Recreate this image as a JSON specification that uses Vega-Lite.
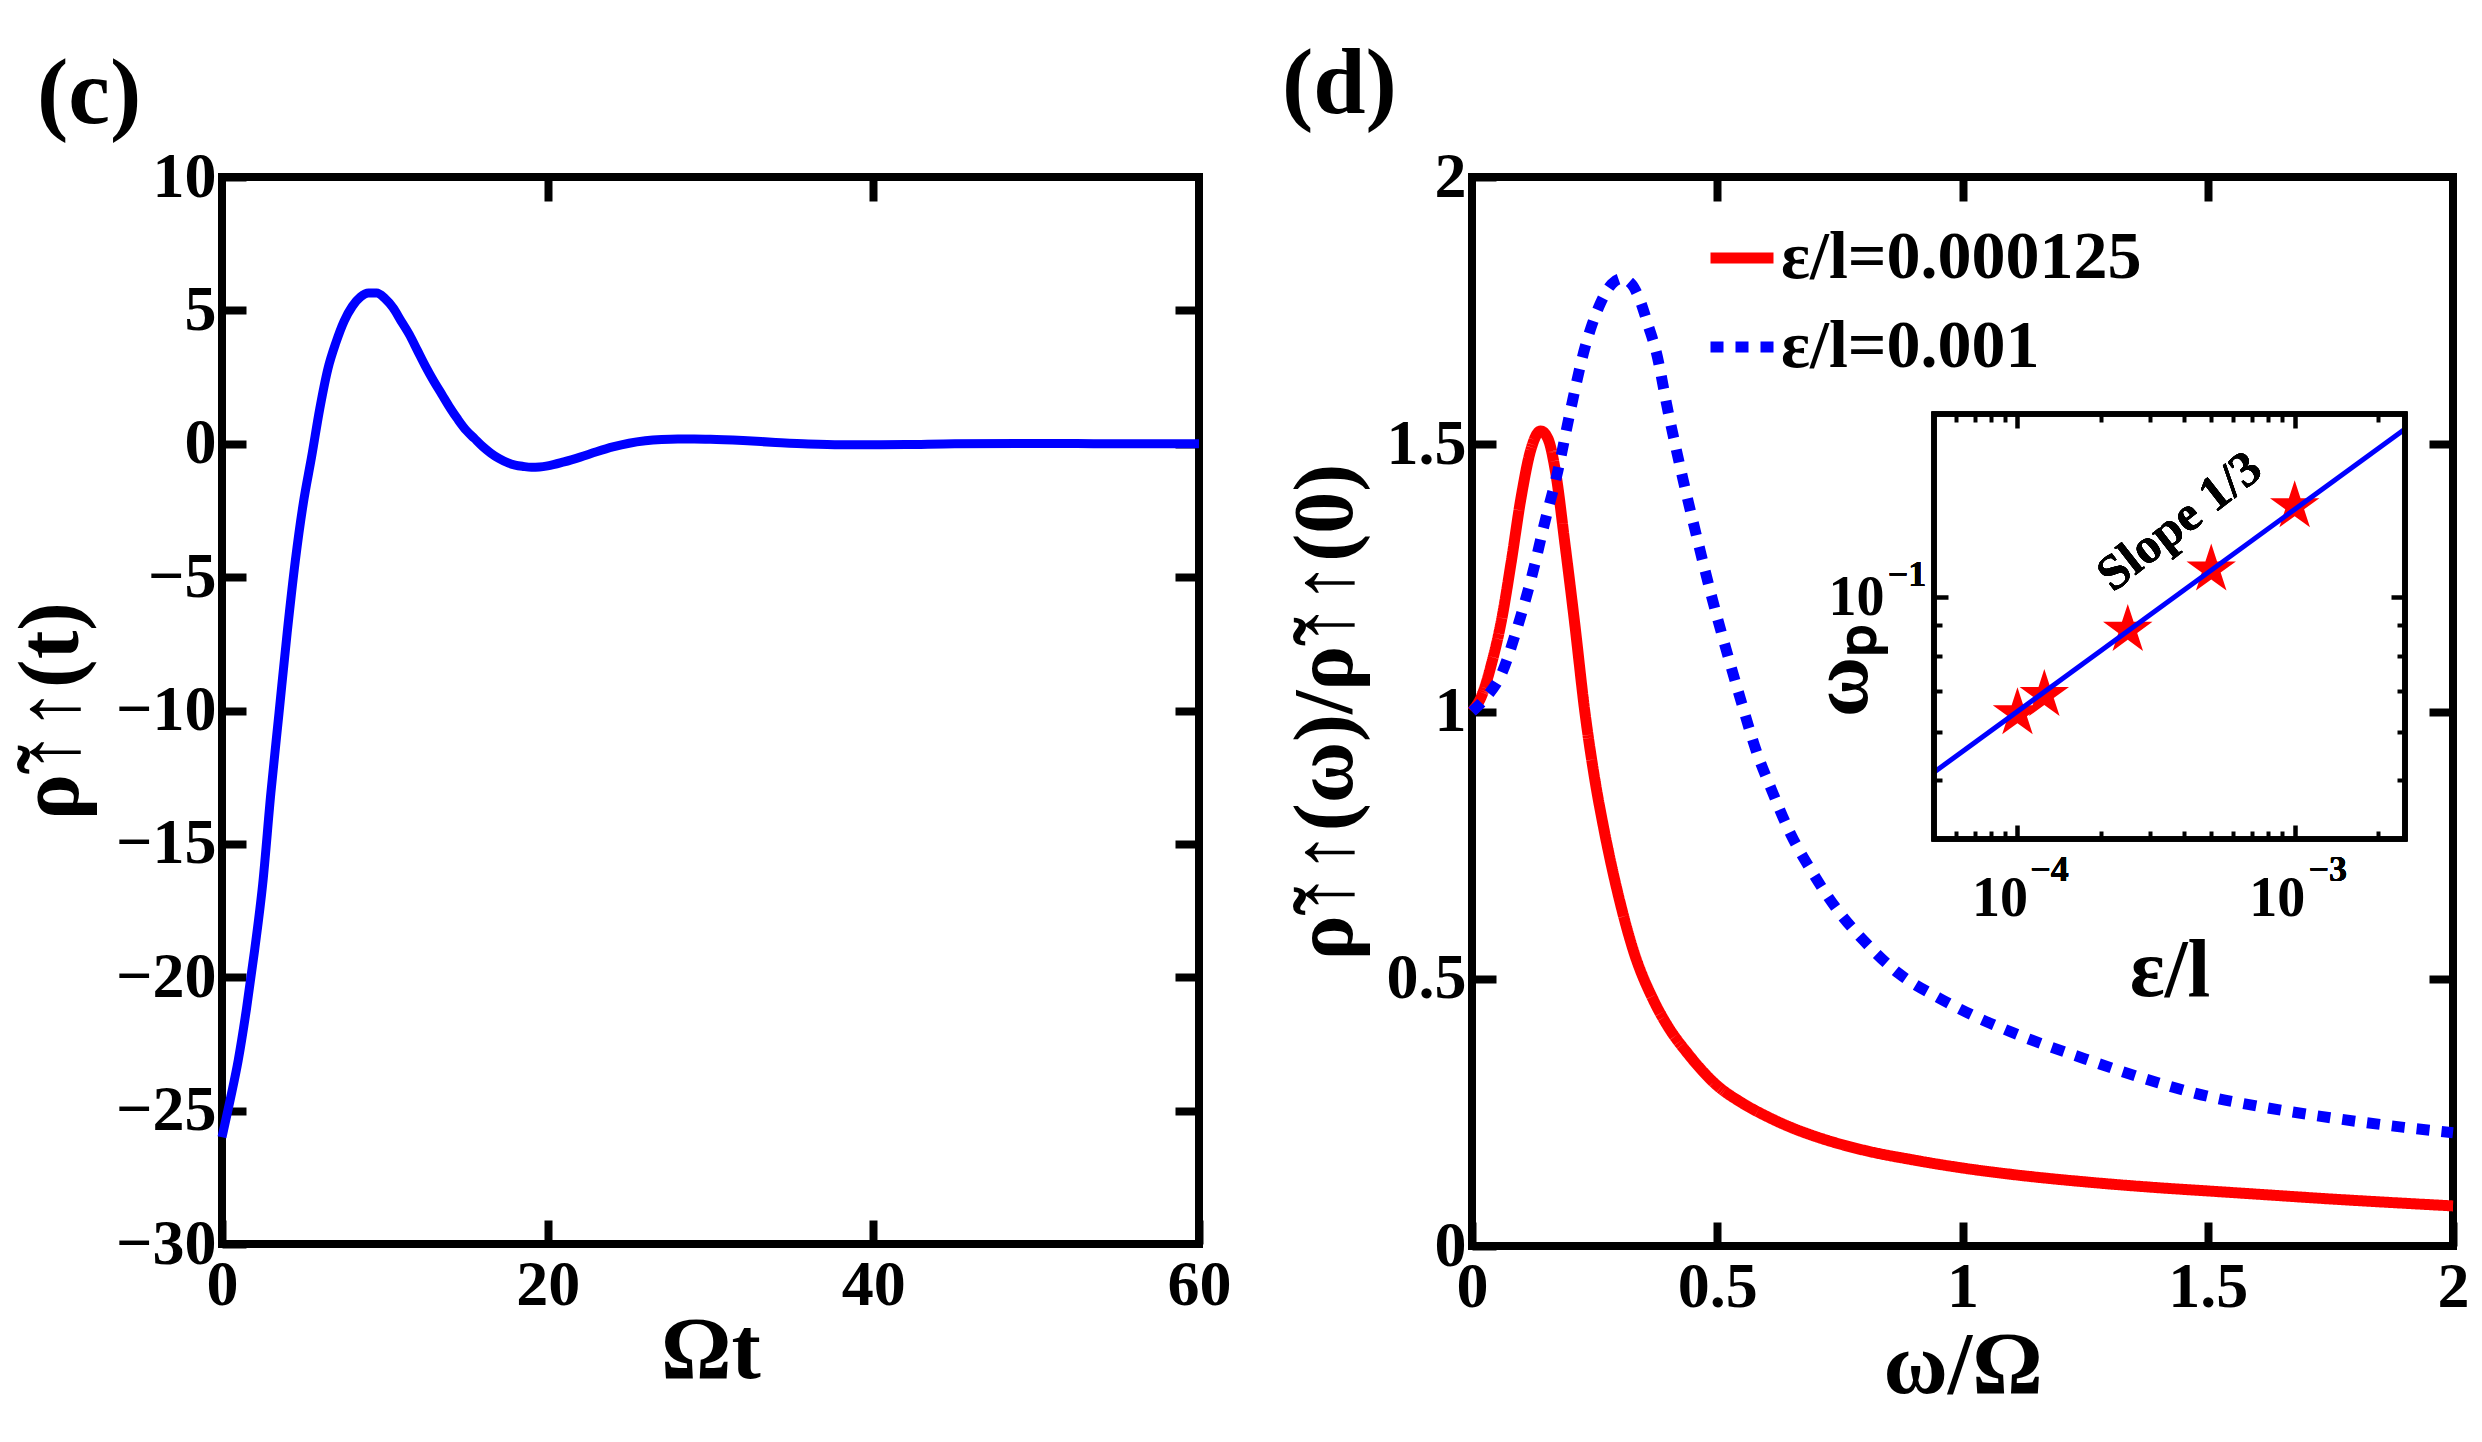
{
  "$schema": "https://vega.github.io/schema/vega-lite/v6.json",
  "background": "white",
  "padding": {"left": 4, "top": 34, "right": 5, "bottom": 5},
  "bounds": "flush",
  "spacing": 273,
  "config": {
    "font": "Liberation Serif",
    "view": {"stroke": "black", "strokeWidth": 8},
    "axis": {
      "grid": false,
      "domain": false,
      "labelFont": "Liberation Serif",
      "labelFontWeight": "bold",
      "labelColor": "black",
      "labelFlush": false,
      "labelOverlap": false,
      "labelBound": false,
      "titleFont": "Liberation Serif",
      "titleFontWeight": "bold",
      "titleColor": "black",
      "tickColor": "black"
    },
    "title": {"font": "Liberation Serif", "fontWeight": "bold", "color": "black", "fontSize": 94, "anchor": "start", "frame": "group", "baseline": "alphabetic"},
    "legend": {
      "orient": "none",
      "legendX": 1483,
      "legendY": 44,
      "padding": 0,
      "symbolType": "stroke",
      "symbolSize": 3969,
      "symbolStrokeWidth": 11,
      "labelFont": "Liberation Serif",
      "labelFontWeight": "bold",
      "labelFontSize": 68,
      "labelColor": "black",
      "labelOffset": 2,
      "labelLimit": 0,
      "rowPadding": 18
    }
  },
  "datasets": {
    "relax": [
      {"t": 0, "rho": -26.0}, {"t": 0.5, "rho": -24.6}, {"t": 1.0, "rho": -23.1}, {"t": 1.5, "rho": -21.2},
      {"t": 2.0, "rho": -19.0}, {"t": 2.5, "rho": -16.5}, {"t": 3.0, "rho": -13.1}, {"t": 3.5, "rho": -10.1},
      {"t": 4.0, "rho": -7.1}, {"t": 4.5, "rho": -4.4}, {"t": 5.0, "rho": -2.2}, {"t": 5.5, "rho": -0.5},
      {"t": 6.0, "rho": 1.3}, {"t": 6.5, "rho": 2.8}, {"t": 7.0, "rho": 3.8}, {"t": 7.5, "rho": 4.6},
      {"t": 8.0, "rho": 5.15}, {"t": 8.5, "rho": 5.5}, {"t": 9.0, "rho": 5.65}, {"t": 9.5, "rho": 5.65},
      {"t": 10.0, "rho": 5.45}, {"t": 10.5, "rho": 5.1}, {"t": 11.0, "rho": 4.6}, {"t": 11.5, "rho": 4.1},
      {"t": 12.0, "rho": 3.5}, {"t": 12.5, "rho": 2.9}, {"t": 13.0, "rho": 2.35}, {"t": 13.5, "rho": 1.85},
      {"t": 14.0, "rho": 1.35}, {"t": 14.5, "rho": 0.9}, {"t": 15.0, "rho": 0.5}, {"t": 15.5, "rho": 0.2},
      {"t": 16.0, "rho": -0.1}, {"t": 16.5, "rho": -0.35}, {"t": 17.0, "rho": -0.55}, {"t": 17.5, "rho": -0.7},
      {"t": 18.0, "rho": -0.8}, {"t": 18.5, "rho": -0.85}, {"t": 19.0, "rho": -0.88}, {"t": 19.5, "rho": -0.87},
      {"t": 20.0, "rho": -0.83}, {"t": 21.0, "rho": -0.68}, {"t": 22.0, "rho": -0.5}, {"t": 23.0, "rho": -0.3},
      {"t": 24.0, "rho": -0.12}, {"t": 25.0, "rho": 0.02}, {"t": 26.0, "rho": 0.11}, {"t": 27.0, "rho": 0.16},
      {"t": 28.0, "rho": 0.18}, {"t": 29.0, "rho": 0.18}, {"t": 30.0, "rho": 0.17}, {"t": 32.0, "rho": 0.12},
      {"t": 34.0, "rho": 0.05}, {"t": 36.0, "rho": -0.01}, {"t": 38.0, "rho": -0.04}, {"t": 40.0, "rho": -0.04},
      {"t": 42.0, "rho": -0.03}, {"t": 45.0, "rho": 0.0}, {"t": 50.0, "rho": 0.01}, {"t": 55.0, "rho": 0.0},
      {"t": 60.0, "rho": 0.0}
    ],
    "spectra": [
      {"series": "ε/l=0.000125", "omega": 0, "ratio": 1.0},
      {"series": "ε/l=0.000125", "omega": 0.02, "ratio": 1.03},
      {"series": "ε/l=0.000125", "omega": 0.04, "ratio": 1.09},
      {"series": "ε/l=0.000125", "omega": 0.06, "ratio": 1.17},
      {"series": "ε/l=0.000125", "omega": 0.08, "ratio": 1.28},
      {"series": "ε/l=0.000125", "omega": 0.10, "ratio": 1.40},
      {"series": "ε/l=0.000125", "omega": 0.12, "ratio": 1.49},
      {"series": "ε/l=0.000125", "omega": 0.14, "ratio": 1.525},
      {"series": "ε/l=0.000125", "omega": 0.155, "ratio": 1.51},
      {"series": "ε/l=0.000125", "omega": 0.17, "ratio": 1.45},
      {"series": "ε/l=0.000125", "omega": 0.19, "ratio": 1.31},
      {"series": "ε/l=0.000125", "omega": 0.21, "ratio": 1.16},
      {"series": "ε/l=0.000125", "omega": 0.23, "ratio": 1.0},
      {"series": "ε/l=0.000125", "omega": 0.25, "ratio": 0.875},
      {"series": "ε/l=0.000125", "omega": 0.27, "ratio": 0.775},
      {"series": "ε/l=0.000125", "omega": 0.30, "ratio": 0.65},
      {"series": "ε/l=0.000125", "omega": 0.33, "ratio": 0.55},
      {"series": "ε/l=0.000125", "omega": 0.37, "ratio": 0.46},
      {"series": "ε/l=0.000125", "omega": 0.40, "ratio": 0.41},
      {"series": "ε/l=0.000125", "omega": 0.44, "ratio": 0.36},
      {"series": "ε/l=0.000125", "omega": 0.50, "ratio": 0.30},
      {"series": "ε/l=0.000125", "omega": 0.55, "ratio": 0.268},
      {"series": "ε/l=0.000125", "omega": 0.60, "ratio": 0.243},
      {"series": "ε/l=0.000125", "omega": 0.65, "ratio": 0.222},
      {"series": "ε/l=0.000125", "omega": 0.70, "ratio": 0.205},
      {"series": "ε/l=0.000125", "omega": 0.80, "ratio": 0.179},
      {"series": "ε/l=0.000125", "omega": 0.90, "ratio": 0.161},
      {"series": "ε/l=0.000125", "omega": 1.00, "ratio": 0.146},
      {"series": "ε/l=0.000125", "omega": 1.10, "ratio": 0.134},
      {"series": "ε/l=0.000125", "omega": 1.25, "ratio": 0.12},
      {"series": "ε/l=0.000125", "omega": 1.40, "ratio": 0.109},
      {"series": "ε/l=0.000125", "omega": 1.50, "ratio": 0.103},
      {"series": "ε/l=0.000125", "omega": 1.60, "ratio": 0.097},
      {"series": "ε/l=0.000125", "omega": 1.75, "ratio": 0.088},
      {"series": "ε/l=0.000125", "omega": 1.90, "ratio": 0.08},
      {"series": "ε/l=0.000125", "omega": 2.00, "ratio": 0.075},
      {"series": "ε/l=0.001", "omega": 0, "ratio": 1.0},
      {"series": "ε/l=0.001", "omega": 0.03, "ratio": 1.028},
      {"series": "ε/l=0.001", "omega": 0.06, "ratio": 1.07},
      {"series": "ε/l=0.001", "omega": 0.09, "ratio": 1.15},
      {"series": "ε/l=0.001", "omega": 0.12, "ratio": 1.246},
      {"series": "ε/l=0.001", "omega": 0.15, "ratio": 1.36},
      {"series": "ε/l=0.001", "omega": 0.175, "ratio": 1.45},
      {"series": "ε/l=0.001", "omega": 0.20, "ratio": 1.56},
      {"series": "ε/l=0.001", "omega": 0.23, "ratio": 1.68},
      {"series": "ε/l=0.001", "omega": 0.26, "ratio": 1.76},
      {"series": "ε/l=0.001", "omega": 0.285, "ratio": 1.80},
      {"series": "ε/l=0.001", "omega": 0.305, "ratio": 1.81},
      {"series": "ε/l=0.001", "omega": 0.325, "ratio": 1.80},
      {"series": "ε/l=0.001", "omega": 0.34, "ratio": 1.775},
      {"series": "ε/l=0.001", "omega": 0.36, "ratio": 1.72},
      {"series": "ε/l=0.001", "omega": 0.375, "ratio": 1.675},
      {"series": "ε/l=0.001", "omega": 0.40, "ratio": 1.56},
      {"series": "ε/l=0.001", "omega": 0.43, "ratio": 1.435},
      {"series": "ε/l=0.001", "omega": 0.46, "ratio": 1.32},
      {"series": "ε/l=0.001", "omega": 0.49, "ratio": 1.21},
      {"series": "ε/l=0.001", "omega": 0.52, "ratio": 1.11},
      {"series": "ε/l=0.001", "omega": 0.55, "ratio": 1.015},
      {"series": "ε/l=0.001", "omega": 0.58, "ratio": 0.925},
      {"series": "ε/l=0.001", "omega": 0.61, "ratio": 0.855},
      {"series": "ε/l=0.001", "omega": 0.65, "ratio": 0.77},
      {"series": "ε/l=0.001", "omega": 0.69, "ratio": 0.705},
      {"series": "ε/l=0.001", "omega": 0.74, "ratio": 0.635},
      {"series": "ε/l=0.001", "omega": 0.80, "ratio": 0.57},
      {"series": "ε/l=0.001", "omega": 0.87, "ratio": 0.51},
      {"series": "ε/l=0.001", "omega": 0.95, "ratio": 0.465},
      {"series": "ε/l=0.001", "omega": 1.02, "ratio": 0.432},
      {"series": "ε/l=0.001", "omega": 1.10, "ratio": 0.40},
      {"series": "ε/l=0.001", "omega": 1.25, "ratio": 0.35},
      {"series": "ε/l=0.001", "omega": 1.40, "ratio": 0.305},
      {"series": "ε/l=0.001", "omega": 1.50, "ratio": 0.28},
      {"series": "ε/l=0.001", "omega": 1.60, "ratio": 0.262},
      {"series": "ε/l=0.001", "omega": 1.75, "ratio": 0.24},
      {"series": "ε/l=0.001", "omega": 1.90, "ratio": 0.222},
      {"series": "ε/l=0.001", "omega": 2.00, "ratio": 0.212}
    ],
    "peaks": [
      {"eps": 0.0001, "wp": 0.0644},
      {"eps": 0.000125, "wp": 0.069},
      {"eps": 0.00025, "wp": 0.0883},
      {"eps": 0.0005, "wp": 0.111},
      {"eps": 0.001, "wp": 0.141}
    ],
    "fit": [
      {"eps": 0.00005, "wp": 0.0515},
      {"eps": 0.0025, "wp": 0.189}
    ]
  },
  "hconcat": [
    {
      "width": 977,
      "height": 1067,
      "title": {"text": "(c)", "dx": -185, "offset": 2},
      "data": {"name": "relax"},
      "layer": [
        {
          "mark": {"type": "line", "color": "#0000ff", "strokeWidth": 9, "interpolate": "monotone"},
          "encoding": {
            "x": {
              "field": "t", "type": "quantitative",
              "scale": {"domain": [0, 60], "nice": false, "zero": false},
              "axis": {"orient": "bottom", "values": [0, 20, 40, 60], "tickSize": -24, "tickWidth": 8,
                       "labelFontSize": 64, "labelPadding": 33, "title": "Ωt", "titleFontSize": 88, "titlePadding": -10}
            },
            "y": {
              "field": "rho", "type": "quantitative",
              "scale": {"domain": [-30, 10], "nice": false, "zero": false},
              "axis": {"orient": "left", "values": [-30, -25, -20, -15, -10, -5, 0, 5, 10], "format": "d",
                       "tickSize": -24, "tickWidth": 8, "labelFontSize": 64, "labelPadding": 30,
                       "title": "ρ̃↑↑(t)", "titleFontSize": 86, "titlePadding": 20}
            }
          }
        },
        {
          "mark": {"type": "line", "strokeOpacity": 0},
          "encoding": {
            "x": {
              "field": "t", "type": "quantitative",
              "scale": {"domain": [0, 60], "nice": false, "zero": false},
              "axis": {"orient": "top", "values": [20, 40], "tickSize": -24, "tickWidth": 8, "labels": false, "title": null}
            },
            "y": {
              "field": "rho", "type": "quantitative",
              "scale": {"domain": [-30, 10], "nice": false, "zero": false},
              "axis": {"orient": "right", "values": [-25, -20, -15, -10, -5, 0, 5], "tickSize": -24, "tickWidth": 8, "labels": false, "title": null}
            }
          }
        }
      ],
      "resolve": {"axis": {"x": "independent", "y": "independent"}}
    },
    {
      "width": 981,
      "height": 1069,
      "title": {"text": "(d)", "dx": -190, "offset": 12},
      "layer": [
        {
          "data": {"name": "spectra"},
          "layer": [
            {
              "mark": {"type": "line", "strokeWidth": 11, "interpolate": "monotone"},
              "encoding": {
                "x": {
                  "field": "omega", "type": "quantitative",
                  "scale": {"domain": [0, 2], "nice": false, "zero": false},
                  "axis": {"orient": "bottom", "values": [0, 0.5, 1, 1.5, 2], "labelExpr": "'' + datum.value",
                           "tickSize": -24, "tickWidth": 8, "labelFontSize": 64, "labelPadding": 33,
                           "title": "ω/Ω", "titleFontSize": 88, "titlePadding": 3}
                },
                "y": {
                  "field": "ratio", "type": "quantitative",
                  "scale": {"domain": [0, 2], "nice": false, "zero": false},
                  "axis": {"orient": "left", "values": [0, 0.5, 1, 1.5, 2], "labelExpr": "'' + datum.value",
                           "tickSize": -24, "tickWidth": 8, "labelFontSize": 64, "labelPadding": 30,
                           "title": "ρ̃↑↑(ω)/ρ̃↑↑(0)", "titleFontSize": 84, "titlePadding": 17}
                },
                "color": {
                  "field": "series", "type": "nominal",
                  "scale": {"domain": ["ε/l=0.000125", "ε/l=0.001"], "range": ["#ff0000", "#0000ff"]},
                  "legend": {"title": null}
                },
                "strokeDash": {
                  "field": "series", "type": "nominal",
                  "scale": {"domain": ["ε/l=0.000125", "ε/l=0.001"], "range": [[1, 0], [13, 12]]},
                  "legend": {"title": null}
                }
              }
            },
            {
              "mark": {"type": "line", "strokeOpacity": 0},
              "encoding": {
                "x": {
                  "field": "omega", "type": "quantitative",
                  "scale": {"domain": [0, 2], "nice": false, "zero": false},
                  "axis": {"orient": "top", "values": [0.5, 1, 1.5], "tickSize": -24, "tickWidth": 8, "labels": false, "title": null}
                },
                "y": {
                  "field": "ratio", "type": "quantitative",
                  "scale": {"domain": [0, 2], "nice": false, "zero": false},
                  "axis": {"orient": "right", "values": [0.5, 1, 1.5], "tickSize": -24, "tickWidth": 8, "labels": false, "title": null}
                },
                "detail": {"field": "series"}
              }
            }
          ],
          "resolve": {"axis": {"x": "independent", "y": "independent"}}
        },
        {
          "data": {"name": "peaks"},
          "layer": [
            {
              "mark": {"type": "point", "shape": "M0,-1L0.2245,-0.309L0.951,-0.309L0.363,0.118L0.588,0.809L0,0.382L-0.588,0.809L-0.363,0.118L-0.951,-0.309L-0.2245,-0.309Z",
                       "filled": true, "color": "#ff0000", "opacity": 1, "size": 2700},
              "encoding": {
                "x": {
                  "field": "eps", "type": "quantitative",
                  "scale": {"type": "log", "domain": [0.00005, 0.0025], "range": [462, 933], "nice": false},
                  "axis": {"orient": "bottom", "offset": -407, "values": [0.0001, 0.001], "labelExpr": "'10'",
                           "tickSize": -14, "tickWidth": 4.5, "labelFontSize": 56, "labelPadding": 46, "labelOffset": -18,
                           "title": "ε/l", "titleFontSize": 82, "titlePadding": 4}
                },
                "y": {
                  "field": "wp", "type": "quantitative",
                  "scale": {"type": "log", "domain": [0.04, 0.2], "range": [662, 237], "nice": false},
                  "axis": {"orient": "left", "offset": -462, "values": [0.1], "labelExpr": "'10'",
                           "tickSize": -14, "tickWidth": 4.5, "labelFontSize": 56, "labelPadding": 64,
                           "title": "ωₚ", "titleFontSize": 82, "titleX": -68, "titleY": 493, "titleBaseline": "alphabetic", "titleAlign": "center"}
                }
              }
            },
            {
              "data": {"name": "fit"},
              "mark": {"type": "line", "color": "#0000ff", "strokeWidth": 5},
              "encoding": {
                "x": {
                  "field": "eps", "type": "quantitative",
                  "scale": {"type": "log", "domain": [0.00005, 0.0025], "range": [462, 933], "nice": false},
                  "axis": {"orient": "top", "offset": -237, "values": [0.0001, 0.001], "tickSize": -14, "tickWidth": 4.5, "labels": false, "title": null}
                },
                "y": {
                  "field": "wp", "type": "quantitative",
                  "scale": {"type": "log", "domain": [0.04, 0.2], "range": [662, 237], "nice": false},
                  "axis": {"orient": "right", "offset": -48, "values": [0.1], "tickSize": -14, "tickWidth": 4.5, "labels": false, "title": null}
                }
              }
            },
            {
              "mark": {"type": "point", "opacity": 0},
              "encoding": {
                "x": {
                  "field": "eps", "type": "quantitative",
                  "scale": {"type": "log", "domain": [0.00005, 0.0025], "range": [462, 933], "nice": false},
                  "axis": {"orient": "bottom", "offset": -407,
                           "values": [0.00006, 0.00007, 0.00008, 0.00009, 0.0002, 0.0003, 0.0004, 0.0005, 0.0006, 0.0007, 0.0008, 0.0009, 0.002],
                           "tickSize": -8, "tickWidth": 4, "labels": false, "title": null}
                },
                "y": {
                  "field": "wp", "type": "quantitative",
                  "scale": {"type": "log", "domain": [0.04, 0.2], "range": [662, 237], "nice": false},
                  "axis": {"orient": "left", "offset": -462, "values": [0.05, 0.06, 0.07, 0.08, 0.09],
                           "tickSize": -8, "tickWidth": 4, "labels": false, "title": null}
                }
              }
            },
            {
              "mark": {"type": "point", "opacity": 0},
              "encoding": {
                "x": {
                  "field": "eps", "type": "quantitative",
                  "scale": {"type": "log", "domain": [0.00005, 0.0025], "range": [462, 933], "nice": false},
                  "axis": {"orient": "top", "offset": -237,
                           "values": [0.00006, 0.00007, 0.00008, 0.00009, 0.0002, 0.0003, 0.0004, 0.0005, 0.0006, 0.0007, 0.0008, 0.0009, 0.002],
                           "tickSize": -8, "tickWidth": 4, "labels": false, "title": null}
                },
                "y": {
                  "field": "wp", "type": "quantitative",
                  "scale": {"type": "log", "domain": [0.04, 0.2], "range": [662, 237], "nice": false},
                  "axis": {"orient": "right", "offset": -48, "values": [0.05, 0.06, 0.07, 0.08, 0.09],
                           "tickSize": -8, "tickWidth": 4, "labels": false, "title": null}
                }
              }
            },
            {
              "mark": {"type": "rect", "fill": null, "fillOpacity": 0, "stroke": "black", "strokeWidth": 5},
              "encoding": {
                "x": {"datum": 0.00005, "type": "quantitative", "scale": {"type": "log", "domain": [0.00005, 0.0025], "range": [462, 933], "nice": false}, "axis": null},
                "x2": {"datum": 0.0025},
                "y": {"datum": 0.04, "type": "quantitative", "scale": {"type": "log", "domain": [0.04, 0.2], "range": [662, 237], "nice": false}, "axis": null},
                "y2": {"datum": 0.2}
              }
            },
            {
              "mark": {"type": "text", "text": "Slope 1/3", "angle": -38, "fontSize": 50, "fontWeight": "bold", "font": "Liberation Serif", "color": "black", "align": "center", "baseline": "middle"},
              "encoding": {
                "x": {"datum": 0.000385, "type": "quantitative", "scale": {"type": "log", "domain": [0.00005, 0.0025], "range": [462, 933], "nice": false}, "axis": null},
                "y": {"datum": 0.133, "type": "quantitative", "scale": {"type": "log", "domain": [0.04, 0.2], "range": [662, 237], "nice": false}, "axis": null}
              }
            },
            {
              "mark": {"type": "text", "text": "−4", "fontSize": 36, "fontWeight": "bold", "font": "Liberation Serif", "color": "black", "align": "center", "baseline": "middle", "dx": 32, "dy": 31},
              "encoding": {
                "x": {"datum": 0.0001, "type": "quantitative", "scale": {"type": "log", "domain": [0.00005, 0.0025], "range": [462, 933], "nice": false}, "axis": null},
                "y": {"datum": 0.04, "type": "quantitative", "scale": {"type": "log", "domain": [0.04, 0.2], "range": [662, 237], "nice": false}, "axis": null}
              }
            },
            {
              "mark": {"type": "text", "text": "−3", "fontSize": 36, "fontWeight": "bold", "font": "Liberation Serif", "color": "black", "align": "center", "baseline": "middle", "dx": 33, "dy": 31},
              "encoding": {
                "x": {"datum": 0.001, "type": "quantitative", "scale": {"type": "log", "domain": [0.00005, 0.0025], "range": [462, 933], "nice": false}, "axis": null},
                "y": {"datum": 0.04, "type": "quantitative", "scale": {"type": "log", "domain": [0.04, 0.2], "range": [662, 237], "nice": false}, "axis": null}
              }
            },
            {
              "mark": {"type": "text", "text": "−1", "fontSize": 36, "fontWeight": "bold", "font": "Liberation Serif", "color": "black", "align": "center", "baseline": "middle", "dx": -27, "dy": -22},
              "encoding": {
                "x": {"datum": 0.00005, "type": "quantitative", "scale": {"type": "log", "domain": [0.00005, 0.0025], "range": [462, 933], "nice": false}, "axis": null},
                "y": {"datum": 0.1, "type": "quantitative", "scale": {"type": "log", "domain": [0.04, 0.2], "range": [662, 237], "nice": false}, "axis": null}
              }
            }
          ],
          "resolve": {"axis": {"x": "independent", "y": "independent"}}
        }
      ],
      "resolve": {"scale": {"x": "independent", "y": "independent"}, "axis": {"x": "independent", "y": "independent"}}
    }
  ]
}
